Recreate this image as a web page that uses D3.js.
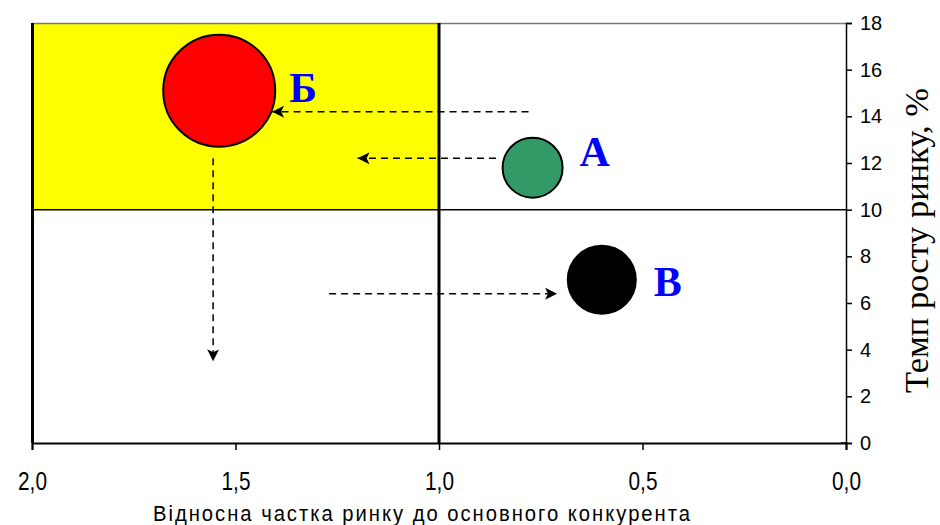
<!DOCTYPE html>
<html>
<head>
<meta charset="utf-8">
<script src="https://cdn.jsdelivr.net/npm/d3@7"></script>
<style>
  html, body { margin: 0; padding: 0; background: #fff; }
  svg { display: block; }
</style>
</head>
<body>
<svg id="chart" width="940" height="525"></svg>
<script>
// Product portfolio: relative market share vs market growth rate
const products = ["Б", "А", "В"];
const relShare = [1.54, 0.77, 0.6];
const growth = [15.1, 11.8, 7.0];
const bubbleSize = [56, 30, 34];
const bubbleFill = ["#ff0000", "#339966", "#000000"];

const xTicks = [2.0, 1.5, 1.0, 0.5, 0.0];
const yTicks = [0, 2, 4, 6, 8, 10, 12, 14, 16, 18];

// Strategic moves: start and end points (share, growth)
const moveFrom = [[0.78, 14.2], [0.86, 12.2], [1.27, 6.4], [1.555, 12.2]];
const moveTo = [[1.41, 14.2], [1.20, 12.2], [0.71, 6.4], [1.555, 3.5]];

const svg = d3.select("#chart");
const plotLeft = 32, plotRight = 846, plotTop = 23, plotBottom = 443;

const x = d3.scaleLinear().domain([2, 0]).range([plotLeft, plotRight]);
const y = d3.scaleLinear().domain([0, 18]).range([plotBottom, plotTop]);

// Quadrant: high share, high growth
svg.append("rect")
  .attr("x", x(2)).attr("y", y(18))
  .attr("width", x(1) - x(2)).attr("height", y(10) - y(18))
  .attr("fill", "#ffff00");

// Frame
svg.append("line").attr("x1", x(2)).attr("x2", x(0)).attr("y1", y(18) + 0.5).attr("y2", y(18) + 0.5)
  .attr("stroke", "#777").attr("stroke-width", 1.5);
svg.append("line").attr("x1", x(2) + 0.5).attr("x2", x(2) + 0.5).attr("y1", y(18)).attr("y2", y(0))
  .attr("stroke", "#000").attr("stroke-width", 3);

// Dividers
svg.append("line").attr("x1", x(2)).attr("x2", x(0)).attr("y1", y(10)).attr("y2", y(10))
  .attr("stroke", "#000").attr("stroke-width", 1.5);
svg.append("line").attr("x1", x(1)).attr("x2", x(1)).attr("y1", y(18)).attr("y2", y(0))
  .attr("stroke", "#000").attr("stroke-width", 3);

// Axes
const xAxis = svg.append("g").attr("transform", `translate(0,${plotBottom})`)
  .call(d3.axisBottom(x).tickValues(xTicks).tickSize(7).tickPadding(22)
    .tickFormat(d => d3.format(".1f")(d).replace(".", ",")));
xAxis.select(".domain").attr("stroke", "#000").attr("stroke-width", 2);
xAxis.selectAll(".tick line").attr("stroke", "#000").attr("stroke-width", 1.5);
xAxis.selectAll(".tick text")
  .attr("font-family", "'Liberation Sans', Arial, sans-serif")
  .attr("font-size", 26).attr("fill", "#000")
  .attr("transform", "scale(0.8,1)");

const yAxis = svg.append("g").attr("transform", `translate(${plotRight},0)`)
  .call(d3.axisRight(y).tickValues(yTicks).tickSize(6).tickPadding(8));
yAxis.select(".domain").attr("stroke", "#000").attr("stroke-width", 1.5);
yAxis.selectAll(".tick line").attr("stroke", "#000").attr("stroke-width", 1.5);
yAxis.selectAll(".tick text")
  .attr("font-family", "'Liberation Sans', Arial, sans-serif")
  .attr("font-size", 20).attr("fill", "#000");
svg.append("line").attr("x1", plotRight - 5).attr("x2", plotRight).attr("y1", y(0)).attr("y2", y(0))
  .attr("stroke", "#000").attr("stroke-width", 1.5);

// Axis titles
const xTitleScale = 0.92;
svg.append("text")
  .attr("transform", `translate(153,521) scale(${xTitleScale},1)`)
  .attr("x", 0).attr("y", 0)
  .attr("textLength", 537 / xTitleScale)
  .attr("lengthAdjust", "spacing")
  .attr("font-family", "'Liberation Sans', Arial, sans-serif")
  .attr("font-size", 22).attr("fill", "#000")
  .text("Відносна частка ринку до основного конкурента");

svg.append("text")
  .attr("transform", `translate(928,393) rotate(-90)`)
  .attr("textLength", 305)
  .attr("lengthAdjust", "spacingAndGlyphs")
  .attr("font-family", "'Liberation Serif', 'Times New Roman', serif")
  .attr("font-size", 33).attr("fill", "#000")
  .text("Темп росту ринку, %");

// Arrow marker
svg.append("defs").append("marker")
  .attr("id", "arrow").attr("viewBox", "0 0 10 10")
  .attr("refX", 10).attr("refY", 5)
  .attr("markerWidth", 13).attr("markerHeight", 12)
  .attr("markerUnits", "userSpaceOnUse")
  .attr("orient", "auto")
  .append("path").attr("d", "M0,0 L10,5 L0,10 L2.5,5 Z").attr("fill", "#000");

svg.append("g").selectAll("line").data(moveFrom).join("line")
  .attr("x1", d => x(d[0])).attr("y1", d => y(d[1]))
  .attr("x2", (d, i) => x(moveTo[i][0])).attr("y2", (d, i) => y(moveTo[i][1]))
  .attr("stroke", "#000").attr("stroke-width", 1.5)
  .attr("stroke-dasharray", "7,5")
  .attr("marker-end", "url(#arrow)");

// Bubbles
svg.append("g").selectAll("circle").data(products).join("circle")
  .attr("cx", (d, i) => x(relShare[i])).attr("cy", (d, i) => y(growth[i]))
  .attr("r", (d, i) => bubbleSize[i])
  .attr("fill", (d, i) => bubbleFill[i])
  .attr("stroke", "#000").attr("stroke-width", 2);

// Product labels
const labelDx = [70, 47, 52];
const labelDy = [-3, -16, 2];
svg.append("g").selectAll("text").data(products).join("text")
  .attr("x", (d, i) => x(relShare[i]) + labelDx[i])
  .attr("y", (d, i) => y(growth[i]) + labelDy[i] + 14)
  .attr("font-family", "'Liberation Serif', 'Times New Roman', serif")
  .attr("font-weight", "bold").attr("font-size", 42)
  .attr("fill", "#0000ff")
  .text(d => d);
</script>
</body>
</html>
